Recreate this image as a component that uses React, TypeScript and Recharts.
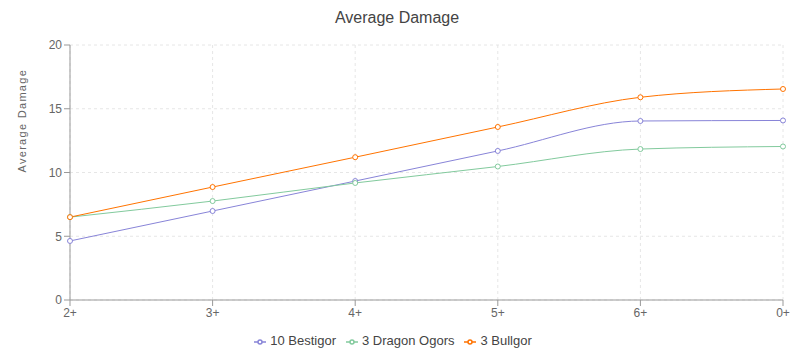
import React from 'react';
import { LineChart, Line, XAxis, YAxis, CartesianGrid, Legend, Label } from 'recharts';

const categories = ['2+', '3+', '4+', '5+', '6+', '0+'];
const bestigor = [4.63, 6.98, 9.33, 11.69, 14.04, 14.08];
const dragonOgors = [6.5, 7.76, 9.18, 10.47, 11.84, 12.04];
const bullgor = [6.5, 8.86, 11.2, 13.57, 15.9, 16.55];
const yTicks = [0, 5, 10, 15, 20];

const data = categories.map((c, i) => ({
  name: c,
  b: bestigor[i],
  d: dragonOgors[i],
  g: bullgor[i],
}));

export default function App() {
  return (
    <div style={{ position: 'relative', width: 790, height: 344, fontFamily: '"Liberation Sans", Arial, sans-serif' }}>
      <div
        style={{
          position: 'absolute',
          top: 0,
          left: 0,
          width: 778,
          textAlign: 'center',
          fontSize: 16,
          lineHeight: '20px',
          color: '#444',
        }}
      >
        Average Damage
      </div>
      <LineChart width={790} height={344} data={data} margin={{ top: 37, right: 15, left: 5, bottom: 4 }}>
        <CartesianGrid strokeDasharray="3 3" stroke="#e6e6e6" />
        <XAxis
          dataKey="name"
          tick={{ fill: '#666', fontSize: 12 }}
          stroke="#999"
          height={33}
        />
        <YAxis
          domain={[0, 20]}
          ticks={yTicks}
          width={57}
          tick={{ fill: '#666', fontSize: 12 }}
          stroke="#999"
        >
          <Label
            value="Average Damage"
            angle={-90}
            position="insideLeft"
            offset={9}
            style={{ fill: '#666', fontSize: 11, letterSpacing: 1.3 }}
          />
        </YAxis>
        <Legend
          itemSorter="dataKey"
          iconSize={12}
          wrapperStyle={{ fontSize: 13 }}
          formatter={(value: string) => <span style={{ color: '#444' }}>{value}</span>}
        />
        <Line type="monotone" dataKey="b" name="10 Bestigor" stroke="#8884d8" dot={{ r: 2.5 }} isAnimationActive={false} />
        <Line type="monotone" dataKey="d" name="3 Dragon Ogors" stroke="#82ca9d" dot={{ r: 2.5 }} isAnimationActive={false} />
        <Line type="monotone" dataKey="g" name="3 Bullgor" stroke="#ff7300" dot={{ r: 2.5 }} isAnimationActive={false} />
      </LineChart>
    </div>
  );
}
